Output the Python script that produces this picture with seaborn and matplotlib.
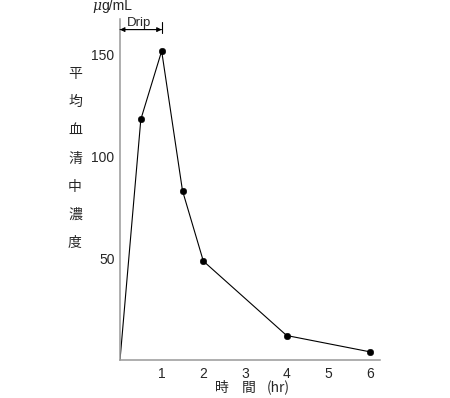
import pandas as pd
import matplotlib.pyplot as plt
import seaborn as sns

hours = [0, 0.5, 1, 1.5, 2, 4, 6]
conc = [0, 118, 151.5, 83, 48.5, 12, 4]
x_ticks = [1, 2, 3, 4, 5, 6]
y_ticks = [50, 100, 150]
y_label_chars = ["平", "均", "血", "清", "中", "濃", "度"]
x_label_parts = ["時", "間", "(hr)"]

df = pd.DataFrame({"hr": hours, "conc": conc})

sns.set_style("white")
plt.rcParams['font.family'] = ['Liberation Sans', 'Noto Sans CJK JP', 'DejaVu Sans']
cjk = ['Noto Sans CJK JP', 'DejaVu Sans']

W, H = 450, 398
fig = plt.figure(figsize=(W / 100, H / 100), dpi=100)
ax = fig.add_axes([120 / W, 1 - 360 / H, 260 / W, 341 / H])

sns.lineplot(data=df, x="hr", y="conc", color="black", linewidth=0.8, ax=ax)
sns.scatterplot(data=df.iloc[1:], x="hr", y="conc", color="black", s=22,
                edgecolor="black", zorder=3, ax=ax)

ax.set_xlim(0, 6.24)
ax.set_ylim(0, 167.2)
ax.set_xticks(x_ticks)
ax.set_yticks(y_ticks)
ax.tick_params(axis="x", direction="in", length=3, width=0.9, color="black",
               labelsize=10, pad=5)
ax.tick_params(axis="y", direction="in", length=3, width=0.9, color="#555555",
               labelsize=10, pad=4)
for side in ["top", "right"]:
    ax.spines[side].set_visible(False)
for side in ["left", "bottom"]:
    ax.spines[side].set_color("#999999")
    ax.spines[side].set_linewidth(1.1)
ax.set_xlabel("")
ax.set_ylabel("")

# drip period marker
for a, b in [(0, 1), (1, 0)]:
    ax.annotate("", xy=(a, 162.0), xytext=(b, 162.0),
                arrowprops=dict(arrowstyle="-|>", color="black", lw=0.7,
                                mutation_scale=7, shrinkA=0, shrinkB=0),
                annotation_clip=False)
ax.plot([1, 1], [160.5, 165.6], color="black", lw=0.8, clip_on=False)
ax.text(0.46, 164.0, "Drip", ha="center", va="baseline", fontsize=9.5)

fig.text(92 / W, 1 - 10 / H, "μ", ha="left", va="baseline", fontsize=10,
         style="italic", family=['DejaVu Serif'])
fig.text(101 / W, 1 - 10 / H, "g/mL", ha="left", va="baseline", fontsize=10)

for i, ch in enumerate(y_label_chars):
    fig.text(75 / W, 1 - (74 + 28.2 * i) / H, ch, ha="center", va="center",
             fontsize=10, family=cjk)
for xc, part in zip([221.5, 249, 278], x_label_parts):
    fig.text(xc / W, 1 - 388 / H, part, ha="center", va="center",
             fontsize=10, family=cjk)

fig.savefig("out.png", dpi=100)
